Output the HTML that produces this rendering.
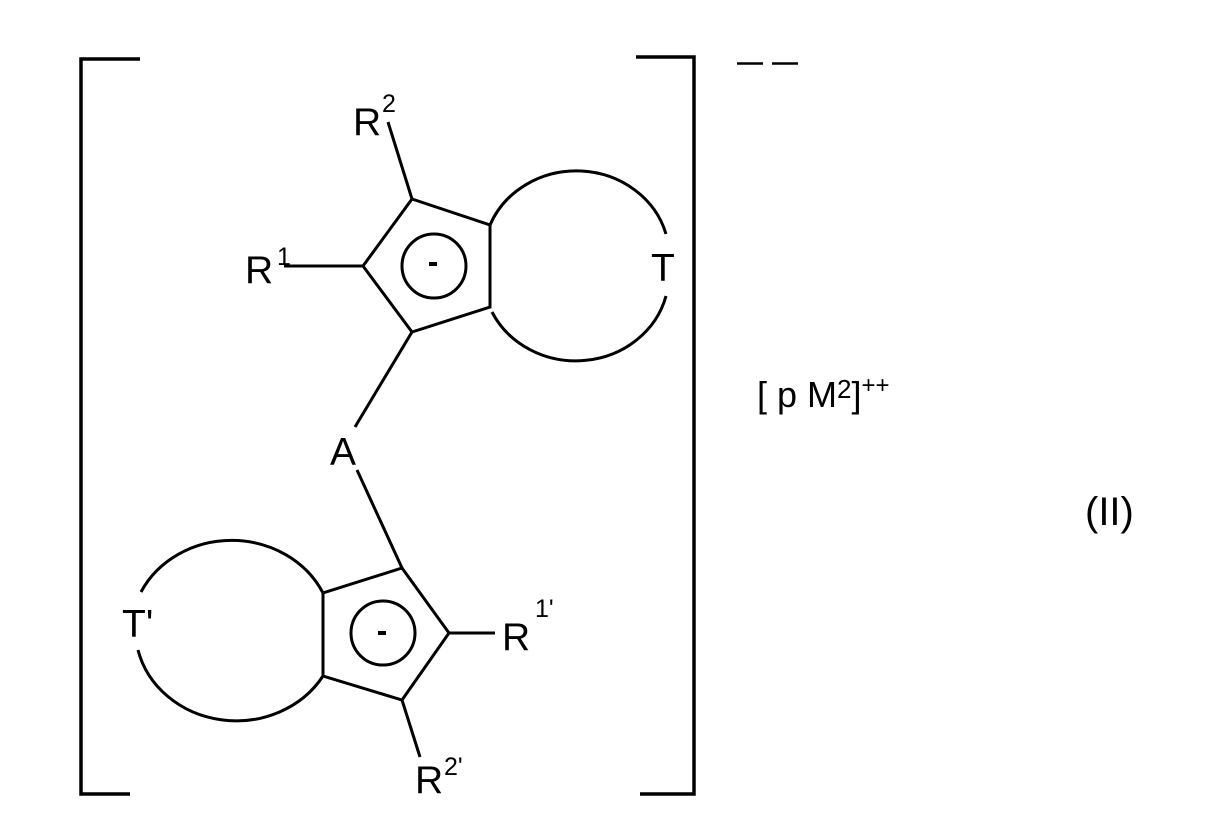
<!DOCTYPE html>
<html><head><meta charset="utf-8"><style>
html,body{margin:0;padding:0;background:#fff;}
svg{display:block;}
text{font-family:"Liberation Sans",Arial,sans-serif;fill:#000;}
</style></head><body>
<svg width="1205" height="833" viewBox="0 0 1205 833" xmlns="http://www.w3.org/2000/svg">
<g stroke="#000" stroke-width="3" fill="none" stroke-linecap="butt">
<!-- brackets -->
<polyline points="140,59 81,59 81,794 130,794" stroke-width="3.5"/>
<polyline points="636,57 694,57 694,794 640,794" stroke-width="3.5"/>
<line x1="737" y1="63.5" x2="763" y2="63.5" stroke-width="2.5"/>
<line x1="772" y1="63.5" x2="798" y2="63.5" stroke-width="2.5"/>
<!-- top ring -->
<polygon points="412,199 490,225 490,307 412,332 363,266"/>
<circle cx="434" cy="266" r="32"/>
<line x1="412" y1="199" x2="388" y2="122"/>
<line x1="363" y1="266" x2="284" y2="266"/>
<line x1="412" y1="332" x2="355" y2="427"/>
<path d="M490,225 A93,86 0 0 1 666,234"/>
<path d="M666,296 A93,86 0 0 1 492,312"/>
<!-- lower ring -->
<polygon points="402,568 449,633 402,700 323,676 323,593"/>
<circle cx="383" cy="633" r="32"/>
<line x1="357" y1="470" x2="402" y2="568"/>
<line x1="449" y1="633" x2="495" y2="633"/>
<line x1="402" y1="700" x2="420" y2="757"/>
<path d="M323,593 A101,92 0 0 0 141,592"/>
<path d="M138,650 A101,92 0 0 0 323,676"/>
</g>
<!-- minus signs -->
<rect x="429" y="262" width="8" height="4" fill="#000"/>
<rect x="378" y="631" width="8" height="4" fill="#000"/>
<g font-size="39">
<text x="353" y="135">R</text>
<text x="245" y="283">R</text>
<text x="330" y="465">A</text>
<text x="651" y="281">T</text>
<text x="122" y="637">T'</text>
<text x="502" y="650">R</text>
<text x="415" y="793">R</text>
</g>
<g font-size="25">
<text x="382" y="112">2</text>
<text x="277" y="265">1</text>
<text x="535" y="617">1'</text>
<text x="444" y="775">2'</text>
</g>
<text x="757" y="407" font-size="36">[ p M<tspan font-size="26" dy="-9">2</tspan><tspan dy="9">]</tspan><tspan font-size="24" dy="-14">++</tspan></text>
<text x="1085" y="525" font-size="40">(II)</text>
</svg>
</body></html>
